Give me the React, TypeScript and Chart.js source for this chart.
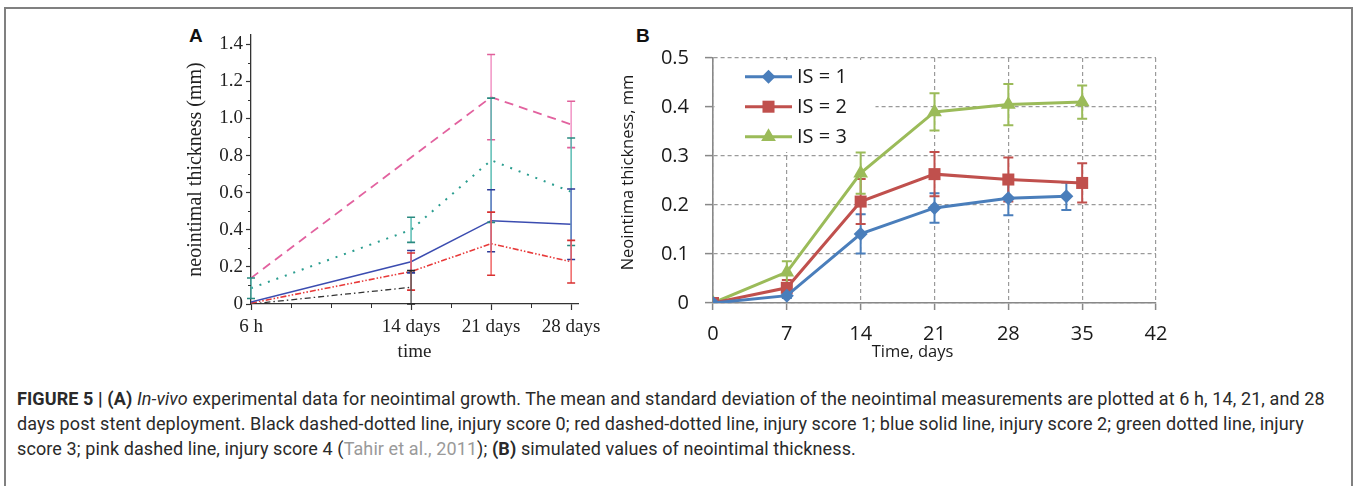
import React, { useEffect, useRef } from "react";
import { Chart, registerables } from "chart.js";

Chart.register(...registerables);

// ---------------- Panel A data (in-vivo) ----------------
const A_DAYS = [0, 14, 21, 28];
const A_TICK_LABELS = ["6 h", "14 days", "21 days", "28 days"];
const A_Y_MAJOR = [0, 0.2, 0.4, 0.6, 0.8, 1.0, 1.2, 1.4];
const A_Y_MINOR = [0.1, 0.3, 0.5, 0.7, 0.9, 1.1, 1.3];
const A_X_MINOR = [3.5, 7, 10.5, 17.5, 24.5];

const A_IS0 = [0.0, 0.09, null, null];
const A_IS0_ERR = [0.0, 0.09, null, null];
const A_IS1 = [0.005, 0.175, 0.325, 0.228];
const A_IS1_ERR = [0.0, 0.1, 0.17, 0.115];
const A_IS2 = [0.01, 0.228, 0.449, 0.43];
const A_IS2_ERR = [0.0, 0.06, 0.167, 0.19];
const A_IS3 = [0.085, 0.4, 0.775, 0.605];
const A_IS3_ERR = [0.055, 0.068, 0.335, 0.29];
const A_IS4 = [0.14, null, 1.115, 0.968];
const A_IS4_ERR = [0.0, null, 0.23, 0.125];

// ---------------- Panel B data (simulated) ----------------
const B_DAYS = [0, 7, 14, 21, 28, 35];
const B_DAYS_IS1 = [0, 7, 14, 21, 28, 33.5];
const B_X_TICKS = [0, 7, 14, 21, 28, 35, 42];
const B_Y_TICKS = [0, 0.1, 0.2, 0.3, 0.4, 0.5];
const B_LABELS = ["IS = 1", "IS = 2", "IS = 3"];
const B_X_TITLE = "Time, days";
const B_Y_TITLE = "Neointima thickness, mm";
const B_IS1 = [0, 0.015, 0.141, 0.194, 0.214, 0.218];
const B_IS1_ERR = [0, 0.005, 0.04, 0.03, 0.035, 0.028];
const B_IS2 = [0, 0.031, 0.207, 0.263, 0.252, 0.245];
const B_IS2_ERR = [0, 0.016, 0.046, 0.045, 0.045, 0.04];
const B_IS3 = [0, 0.063, 0.265, 0.39, 0.405, 0.41];
const B_IS3_ERR = [0, 0.022, 0.042, 0.038, 0.042, 0.034];

const toPoints = (xs: number[], ys: (number | null)[]) =>
  xs.map((x, i) => ({ x, y: ys[i] }));

const makeErrorBarPlugin = (id: string, hook: string) => ({
  id,
  [hook](chart: any) {
    const { ctx } = chart;
    const xs = chart.scales.x;
    const ys = chart.scales.y;
    chart.data.datasets.forEach((ds: any, di: number) => {
      const errs = ds.errors;
      if (!errs) return;
      const meta = chart.getDatasetMeta(di);
      if (meta.hidden) return;
      ctx.save();
      ds.data.forEach((p: any, i: number) => {
        const e = errs[i];
        if (p.y == null || e == null || e <= 0) return;
        const px = xs.getPixelForValue(p.x);
        const top = ys.getPixelForValue(p.y + e);
        const bot = ys.getPixelForValue(Math.max(0, p.y - e));
        const c = ds.capHalf ?? 4;
        ctx.lineWidth = ds.errorWidth ?? 1.5;
        ctx.strokeStyle = ds.errorColor;
        ctx.setLineDash([]);
        ctx.beginPath();
        ctx.moveTo(px, top);
        ctx.lineTo(px, bot);
        ctx.stroke();
        ctx.strokeStyle = ds.capColor ?? ds.errorColor;
        ctx.lineWidth = ds.capWidth ?? ds.errorWidth ?? 1.5;
        ctx.beginPath();
        ctx.moveTo(px - c, top);
        ctx.lineTo(px + c, top);
        ctx.moveTo(px - c, bot);
        ctx.lineTo(px + c, bot);
        ctx.stroke();
      });
      ctx.restore();
    });
  },
});

const minorTicksPlugin = {
  id: "minorTicksA",
  afterDraw(chart: any) {
    const { ctx, chartArea } = chart;
    const xs = chart.scales.x;
    const ys = chart.scales.y;
    ctx.save();
    ctx.strokeStyle = "#333";
    ctx.lineWidth = 1;
    A_Y_MINOR.forEach((v) => {
      const py = Math.round(ys.getPixelForValue(v)) + 0.5;
      ctx.beginPath();
      ctx.moveTo(chartArea.left - 3, py);
      ctx.lineTo(chartArea.left, py);
      ctx.stroke();
    });
    A_X_MINOR.forEach((v) => {
      const px = Math.round(xs.getPixelForValue(v)) + 0.5;
      ctx.beginPath();
      ctx.moveTo(px, chartArea.bottom);
      ctx.lineTo(px, chartArea.bottom + 4);
      ctx.stroke();
    });
    ctx.restore();
  },
};

const drawMarker = (ctx: any, style: string, x: number, y: number, r: number) => {
  ctx.beginPath();
  if (style === "rectRot") {
    ctx.moveTo(x, y - r);
    ctx.lineTo(x + r, y);
    ctx.lineTo(x, y + r);
    ctx.lineTo(x - r, y);
  } else if (style === "rect") {
    const s = Math.SQRT1_2 * r;
    ctx.rect(x - s, y - s, 2 * s, 2 * s);
  } else {
    const a = (Math.PI * 2) / 3;
    for (let k = 0; k < 3; k++) {
      const px = x + Math.sin(k * a) * r;
      const py = y - Math.cos(k * a) * r;
      if (k === 0) ctx.moveTo(px, py);
      else ctx.lineTo(px, py);
    }
  }
  ctx.closePath();
  ctx.fill();
};

const SERIF = "'Liberation Serif', 'Times New Roman', serif";
const SANS = "'Open Sans', sans-serif";

const legendBPlugin = {
  id: "legendB",
  beforeDatasetsDraw(chart: any) {
    const { ctx, chartArea } = chart;
    ctx.save();
    ctx.fillStyle = "#ffffff";
    ctx.fillRect(chartArea.left + 1.5, chartArea.top + 2, 161, 92);
    chart.data.datasets.forEach((ds: any, i: number) => {
      const yy = chartArea.top + 18.7 + i * 30;
      const x0 = chartArea.left + 32;
      const x1 = chartArea.left + 79;
      ctx.strokeStyle = ds.borderColor;
      ctx.lineWidth = ds.borderWidth;
      ctx.setLineDash([]);
      ctx.beginPath();
      ctx.moveTo(x0, yy);
      ctx.lineTo(x1, yy);
      ctx.stroke();
      ctx.fillStyle = ds.backgroundColor;
      drawMarker(ctx, ds.pointStyle, (x0 + x1) / 2, yy, ds.pointRadius);
      ctx.fillStyle = "#1a1a1a";
      ctx.font = "20px 'Open Sans'";
      ctx.textBaseline = "middle";
      ctx.textAlign = "left";
      ctx.fillText(ds.label, chartArea.left + 84, yy + 1);
    });
    ctx.restore();
  },
};

// Axis titles of panel B, placed where the original figure has them
const titlesBPlugin = {
  id: "titlesB",
  afterDraw(chart: any) {
    const { ctx, chartArea } = chart;
    ctx.save();
    ctx.fillStyle = "#1a1a1a";
    ctx.font = "16.5px 'Open Sans'";
    ctx.textAlign = "center";
    ctx.textBaseline = "middle";
    ctx.fillText(B_X_TITLE, (chartArea.left + chartArea.right) / 2 - 22, chartArea.bottom + 49);
    ctx.translate(chartArea.left - 85, (chartArea.top + chartArea.bottom) / 2 - 8);
    ctx.rotate(-Math.PI / 2);
    ctx.fillText(B_Y_TITLE, 0, 0);
    ctx.restore();
  },
};

function PanelA() {
  const ref = useRef<HTMLCanvasElement | null>(null);
  useEffect(() => {
    if (!ref.current) return;
    const line = (label: string, ys: any[], errs: any[], color: string, dash: number[], width: number, errColor: string, capColor: string) => ({
      label,
      data: toPoints(A_DAYS, ys),
      borderColor: color,
      backgroundColor: color,
      borderDash: dash,
      borderWidth: width,
      pointRadius: 0,
      spanGaps: true,
      tension: 0,
      errors: errs,
      errorColor: errColor,
      capColor,
      errorWidth: 1.4,
      capWidth: 1.6,
      capHalf: 4,
    });
    const chart = new Chart(ref.current, {
      type: "line",
      data: {
        datasets: [
          line("injury score 4", A_IS4, A_IS4_ERR, "#e2629f", [9, 6], 1.8, "#f08cc0", "#e0609a"),
          line("injury score 3", A_IS3, A_IS3_ERR, "#2a9d8f", [2, 7], 2, "#4fb8ae", "#2a8a80"),
          line("injury score 2", A_IS2, A_IS2_ERR, "#3b4cb0", [], 1.5, "#6a78c8", "#2c3a98"),
          line("injury score 1", A_IS1, A_IS1_ERR, "#e83a3a", [6, 2, 1.5, 2, 1.5, 2], 1.6, "#ef5a5a", "#d83030"),
          line("injury score 0", A_IS0, A_IS0_ERR, "#333333", [6, 3, 1.5, 3], 1.3, "#555555", "#222222"),
        ] as any,
      },
      options: {
        animation: false,
        responsive: false,
        devicePixelRatio: 1,
        layout: { padding: { left: 20, top: 15, right: 32, bottom: 3 } },
        plugins: { legend: { display: false }, tooltip: { enabled: false } },
        scales: {
          x: {
            type: "linear",
            min: 0,
            max: 28.6,
            afterBuildTicks: (scale: any) => {
              scale.ticks = A_DAYS.map((v) => ({ value: v }));
            },
            afterFit: (scale: any) => {
              scale.height = 63;
            },
            ticks: {
              autoSkip: false,
              maxRotation: 0,
              padding: 6,
              color: "#222",
              font: { family: SERIF, size: 19 },
              callback: (v: any) => {
                const i = A_DAYS.indexOf(Number(v));
                return i >= 0 ? A_TICK_LABELS[i] : "";
              },
            },
            grid: { drawOnChartArea: false, drawTicks: true, tickLength: 6, tickColor: "#333", tickWidth: 1.2 },
            border: { color: "#333", width: 1.3 },
            title: { display: true, text: "time", color: "#222", font: { family: SERIF, size: 19 } },
          },
          y: {
            type: "linear",
            min: 0,
            max: 1.45,
            afterBuildTicks: (scale: any) => {
              scale.ticks = A_Y_MAJOR.map((v) => ({ value: v }));
            },
            afterFit: (scale: any) => {
              scale.width = 71;
            },
            ticks: {
              padding: 3,
              color: "#222",
              font: { family: SERIF, size: 19 },
              callback: (v: any) => (Number(v) === 0 ? "0" : Number(v).toFixed(1)),
            },
            grid: { drawOnChartArea: false, drawTicks: true, tickLength: 5, tickColor: "#333", tickWidth: 1.2 },
            border: { color: "#333", width: 1.3 },
            title: { display: true, text: "neointimal thickness (mm)", color: "#222", font: { family: SERIF, size: 20 } },
          },
        },
      } as any,
      plugins: [makeErrorBarPlugin("errA", "afterDatasetsDraw"), minorTicksPlugin] as any,
    });
    return () => chart.destroy();
  }, []);
  return <canvas ref={ref} width={450} height={350} style={{ position: "absolute", left: 160, top: 20, width: 450, height: 350 }} />;
}

function PanelB() {
  const ref = useRef<HTMLCanvasElement | null>(null);
  useEffect(() => {
    if (!ref.current) return;
    const series = (label: string, xs: number[], ys: number[], errs: number[], color: string, style: string, r: number) => ({
      label,
      data: toPoints(xs, ys),
      borderColor: color,
      backgroundColor: color,
      borderWidth: 3,
      pointStyle: style,
      pointRadius: r,
      pointBorderWidth: 0,
      pointBackgroundColor: color,
      tension: 0,
      errors: errs,
      errorColor: color,
      errorWidth: 2,
      capHalf: 5,
    });
    const chart = new Chart(ref.current, {
      type: "line",
      data: {
        datasets: [
          series(B_LABELS[0], B_DAYS_IS1, B_IS1, B_IS1_ERR, "#4a7ebb", "rectRot", 7),
          series(B_LABELS[1], B_DAYS, B_IS2, B_IS2_ERR, "#c0504d", "rect", 8.5),
          series(B_LABELS[2], B_DAYS, B_IS3, B_IS3_ERR, "#9bbb59", "triangle", 8.5),
        ] as any,
      },
      options: {
        animation: false,
        responsive: false,
        devicePixelRatio: 1,
        layout: { padding: { left: 4, top: 38, right: 44, bottom: 4 } },
        plugins: { legend: { display: false }, tooltip: { enabled: false } },
        scales: {
          x: {
            type: "linear",
            min: 0,
            max: 42,
            afterBuildTicks: (scale: any) => {
              scale.ticks = B_X_TICKS.map((v) => ({ value: v }));
            },
            afterFit: (scale: any) => {
              scale.height = 63;
            },
            ticks: {
              autoSkip: false,
              maxRotation: 0,
              padding: 12,
              color: "#1a1a1a",
              font: { family: SANS, size: 20 },
            },
            grid: {
              color: "#9a9a9a",
              lineWidth: 1.2,
              drawTicks: true,
              tickLength: 7,
              tickColor: "#888",
              tickWidth: 1.5,
              tickBorderDash: [],
            },
            border: { color: "#888", width: 1.6, dash: [4, 3] },
            title: { display: false, text: B_X_TITLE },
          },
          y: {
            type: "linear",
            min: 0,
            max: 0.5,
            afterBuildTicks: (scale: any) => {
              scale.ticks = B_Y_TICKS.map((v) => ({ value: v }));
            },
            afterFit: (scale: any) => {
              scale.width = 99;
            },
            ticks: {
              padding: 16,
              color: "#1a1a1a",
              font: { family: SANS, size: 20 },
              callback: (v: any) => (Number(v) === 0 ? "0" : Number(v).toFixed(1)),
            },
            grid: {
              color: "#9a9a9a",
              lineWidth: 1.2,
              drawTicks: true,
              tickLength: 8,
              tickColor: "#888",
              tickWidth: 1.5,
              tickBorderDash: [],
            },
            border: { color: "#888", width: 1.6, dash: [4, 3] },
            title: { display: false, text: B_Y_TITLE },
          },
        },
      } as any,
      plugins: [legendBPlugin, makeErrorBarPlugin("errB", "beforeDatasetsDraw"), titlesBPlugin] as any,
    });
    return () => chart.destroy();
  }, []);
  return <canvas ref={ref} width={590} height={350} style={{ position: "absolute", left: 610, top: 20, width: 590, height: 350 }} />;
}

const captionLine: React.CSSProperties = { whiteSpace: "nowrap", height: 25, lineHeight: "25px" };

export default function App() {
  return (
    <div
      style={{
        position: "absolute",
        left: 0,
        top: 0,
        width: 1355,
        height: 486,
        overflow: "hidden",
        background: "#fff",
        fontFamily: "Roboto, 'Liberation Sans', sans-serif",
      }}
    >
      <div
        style={{
          position: "absolute",
          left: 4,
          top: 7,
          width: 1345,
          height: 600,
          border: "2px solid #808080",
        }}
      />
      <div style={{ position: "absolute", left: 189, top: 25, fontFamily: "'Liberation Sans', Arial, sans-serif", fontWeight: 700, fontSize: 19, color: "#111" }}>A</div>
      <div style={{ position: "absolute", left: 636, top: 25, fontFamily: "'Liberation Sans', Arial, sans-serif", fontWeight: 700, fontSize: 19, color: "#111" }}>B</div>
      <PanelA />
      <PanelB />
      <div style={{ position: "absolute", left: 17, top: 386, fontSize: 18, letterSpacing: "0.1px", color: "#2a2a2a" }}>
        <div style={captionLine}>
          <b>FIGURE 5 | (A)</b> <i>In-vivo</i> experimental data for neointimal growth. The mean and standard deviation of the neointimal measurements are plotted at 6 h, 14, 21, and 28
        </div>
        <div style={captionLine}>
          days post stent deployment. Black dashed-dotted line, injury score 0; red dashed-dotted line, injury score 1; blue solid line, injury score 2; green dotted line, injury
        </div>
        <div style={captionLine}>
          score 3; pink dashed line, injury score 4 (<span style={{ color: "#9a9a9a" }}>Tahir et al., 2011</span>); <b>(B)</b> simulated values of neointimal thickness.
        </div>
      </div>
    </div>
  );
}
